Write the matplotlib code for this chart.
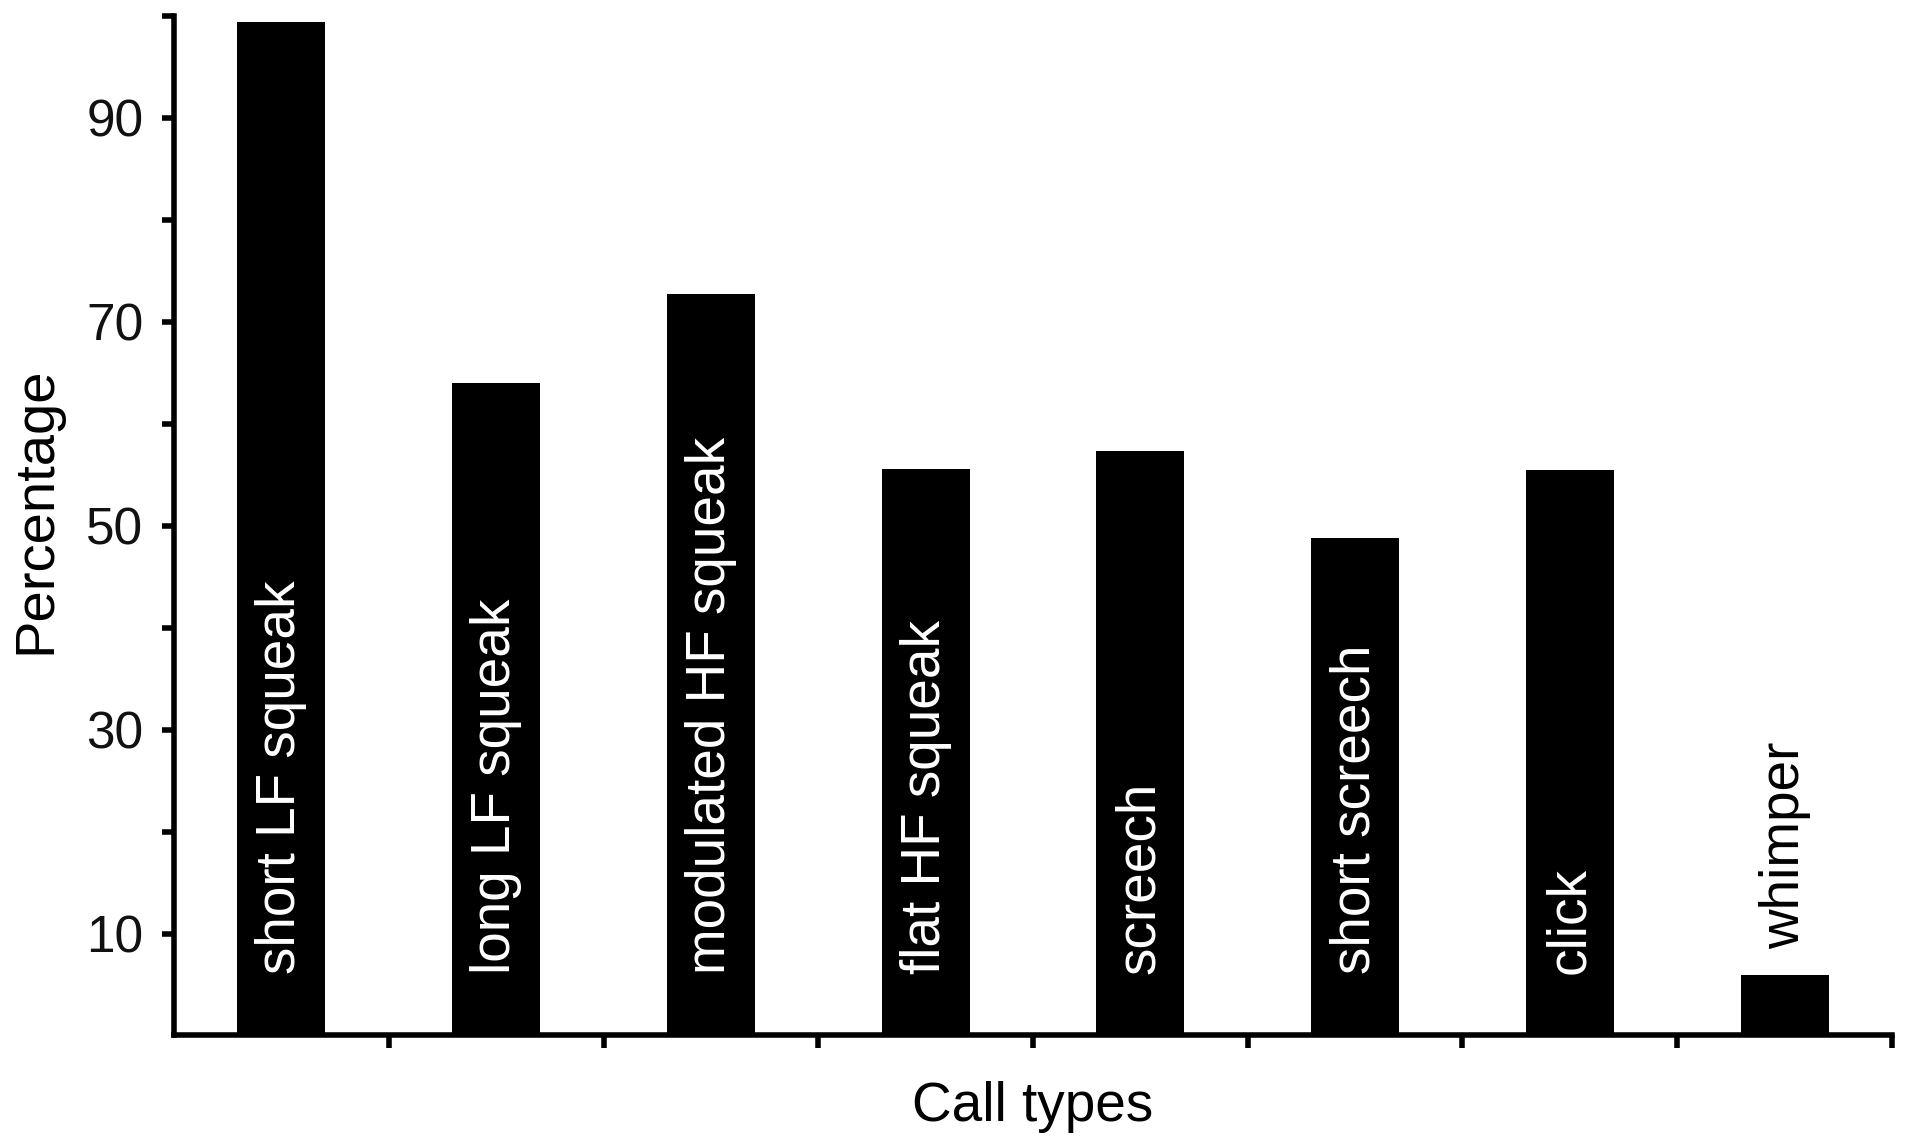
import matplotlib
matplotlib.use("Agg")
import matplotlib.pyplot as plt
import numpy as np

plt.rcParams["font.family"] = ["Liberation Sans", "DejaVu Sans"]

# percentage of recordings containing each call type
call_types = ["short LF squeak", "long LF squeak", "modulated HF squeak",
              "flat HF squeak", "screech", "short screech", "click", "whimper"]
percentages = [99.4, 64.0, 72.7, 55.6, 57.3, 48.8, 55.5, 5.9]
inside_label = [True, True, True, True, True, True, True, False]

ytick_values = [10, 20, 30, 40, 50, 60, 70, 80, 90, 100]
ytick_labels = ["10", "", "30", "", "50", "", "70", "", "90", ""]

fig = plt.figure(figsize=(19.08, 11.41), dpi=100)
ax = fig.add_axes([0.0912, 0.0925, 0.9004, 0.8935])

x = np.arange(len(call_types))
ax.bar(x, percentages, width=0.41, color="black", edgecolor="black", linewidth=0)

for xi, name, val, inside in zip(x, call_types, percentages, inside_label):
    if inside:
        ax.text(xi, 6.0, name, rotation=90, ha="center", va="bottom",
                color="white", fontsize=39.5)
    else:
        ax.text(xi, val + 2.6, name, rotation=90, ha="center", va="bottom",
                color="black", fontsize=39.5)

ax.set_xlim(-0.5, 7.5)
ax.set_ylim(0, 100)

ax.set_xticks(np.arange(0.5, 8, 1.0))
ax.set_xticklabels([])
ax.set_yticks(ytick_values)
ax.set_yticklabels(ytick_labels)

for side in ["top", "right"]:
    ax.spines[side].set_visible(False)
for side in ["left", "bottom"]:
    ax.spines[side].set_linewidth(4)

ax.tick_params(axis="both", direction="out", length=9, width=4, color="black")
ax.tick_params(axis="y", labelsize=37, pad=13, labelcolor="#111111")

ax.set_xlabel("Call types", fontsize=39.5, labelpad=20)
ax.set_ylabel("Percentage", fontsize=40.5)
ax.yaxis.set_label_coords(-0.065, 0.515)

fig.savefig("out.png", dpi=100, facecolor="white")
